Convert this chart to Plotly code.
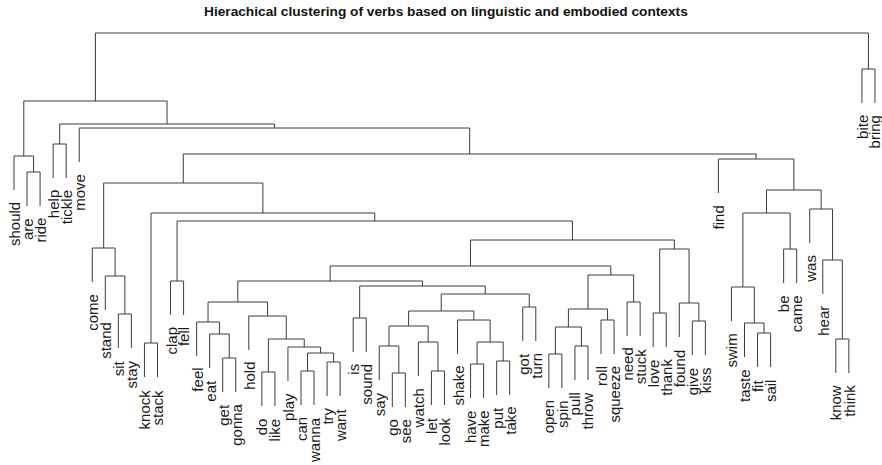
import plotly.graph_objects as go

# leaf order, left to right
verbs = ["should", "are", "ride", "help", "tickle", "move", "come", "stand", "sit", "stay",
         "knock", "stack", "clap", "fell", "feel", "eat", "get", "gonna", "hold", "do",
         "like", "play", "can", "wanna", "try", "want", "is", "sound", "say", "go",
         "see", "watch", "let", "look", "shake", "have", "make", "put", "take", "got",
         "turn", "open", "spin", "pull", "throw", "roll", "squeeze", "need", "stuck", "love",
         "thank", "found", "give", "kiss", "find", "swim", "taste", "fit", "sail", "be",
         "came", "was", "hear", "know", "think", "bite", "bring"]

# merges, hclust style: a string is a leaf, an int is an earlier merge (1-based)
merge_left = ["are", "should", "help", "sit", "stand", "come", "knock", "clap", "get", "eat",
              "feel", "do", "can", "try", 13, "play", 12, "hold", 11, "is",
              "go", "say", "let", "watch", 22, "have", "put", 26, "shake", 25,
              "got", 30, 20, 19, "open", "pull", 35, "roll", 37, "need",
              39, 34, "love", "give", "found", 43, 42, 8, 7, 6,
              "fit", "taste", "swim", "be", 53, "know", "hear", "was", 55, "find",
              50, "move", 3, 2, "bite", 64]
merge_right = ["ride", 1, "tickle", "stay", 4, 5, "stack", "fell", "gonna", 9,
               10, "like", "wanna", "want", 14, 15, 16, 17, 18, "sound",
               "see", 21, "look", 23, 24, "make", "take", 27, 28, 29,
               "turn", 31, 32, 33, "spin", "throw", 36, "squeeze", 38, "stuck",
               40, 41, "thank", "kiss", 44, 45, 46, 47, 48, 49,
               "sail", 51, 52, "came", 54, "think", 56, 57, 58, 59,
               60, 61, 62, 63, "bring", 65]
merge_height = [2.28, 2.44, 2.56, 0.86, 1.24, 1.52, 0.57, 1.19, 0.42, 0.66,
                0.78, 0.28, 0.29, 0.38, 0.47, 0.53, 0.61, 0.84, 0.98, 0.82,
                0.27, 0.54, 0.29, 0.58, 0.74, 0.36, 0.39, 0.58, 0.80, 0.89,
                0.93, 1.06, 1.14, 1.19, 0.46, 0.54, 0.73, 0.80, 0.91, 0.98,
                1.25, 1.34, 0.87, 0.79, 0.97, 1.51, 1.60, 1.79, 1.87, 2.17,
                0.67, 0.77, 1.13, 1.51, 1.87, 0.61, 1.40, 1.91, 2.10, 2.41,
                2.46, 2.72, 2.76, 2.99, 3.31, 3.67]
hang = 0.34

title = "Hierachical clustering of verbs based on linguistic and embodied contexts"

leaf_x = {v: i + 1 for i, v in enumerate(verbs)}
node_x = []
xs, ys = [], []
labels = []


def child_pos(c, h):
    # x position and top height of a child in a merge of height h
    if isinstance(c, str):
        labels.append((c, leaf_x[c], h - hang))
        return leaf_x[c], h - hang
    return node_x[c - 1], merge_height[c - 1]


for a, b, h in zip(merge_left, merge_right, merge_height):
    xa, ya = child_pos(a, h)
    xb, yb = child_pos(b, h)
    xs += [xa, xa, xb, xb, None]
    ys += [ya, h, h, yb, None]
    node_x.append((xa + xb) / 2)

fig = go.Figure()
fig.add_trace(go.Scatter(x=xs, y=ys, mode="lines",
                         line=dict(color="#3c3c3c", width=1),
                         hoverinfo="skip", showlegend=False))

for name, x, y in labels:
    fig.add_annotation(x=x, y=y, text=name, textangle=-90, showarrow=False,
                       xanchor="center", yanchor="top", yshift=-10,
                       font=dict(family="Liberation Sans, Arial", size=15, color="#1a1a1a"))

fig.add_annotation(xref="paper", yref="paper", x=446 / 882, y=1 - 12 / 465,
                   text="<b>" + title + "</b>", showarrow=False,
                   xanchor="center", yanchor="middle",
                   font=dict(family="Liberation Sans, Arial", size=13.7, color="#111"))

fig.update_layout(
    width=882, height=465,
    margin=dict(l=0, r=0, t=0, b=0),
    paper_bgcolor="white", plot_bgcolor="white",
    xaxis=dict(range=[-0.0732, 67.54], visible=False),
    yaxis=dict(range=[-0.65, 4.0], visible=False),
)

fig.write_html("out.html", config={"displayModeBar": False},
               post_script="document.body.style.margin='0';document.body.style.overflow='hidden';")
